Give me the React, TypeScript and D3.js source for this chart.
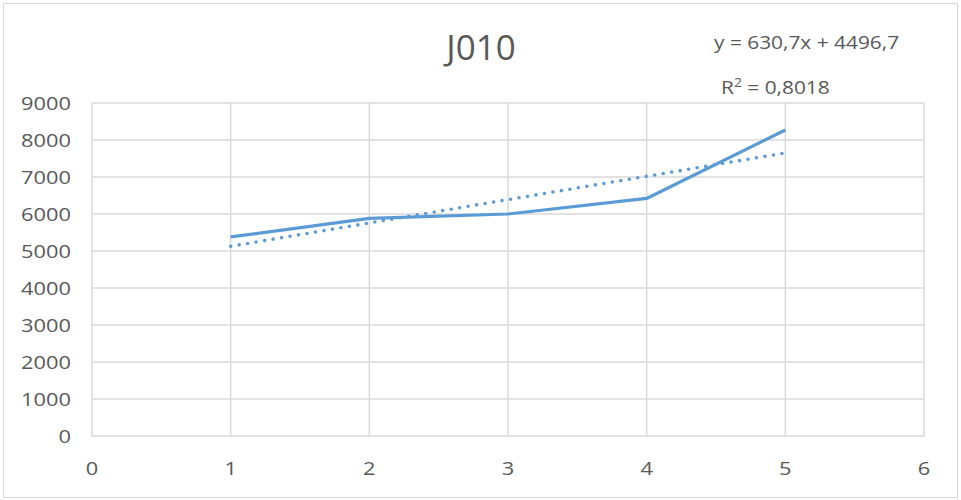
import React from "react";
import * as d3 from "d3";

// Series: period index vs. value
const xValues = [1, 2, 3, 4, 5];
const yValues = [5380, 5880, 6000, 6420, 8270];

// Linear trend as stated by the equation label
const trendSlope = 630.7;
const trendIntercept = 4496.7;
const trendR2 = "0,8018";

const xTicks = [0, 1, 2, 3, 4, 5, 6];
const yTicks = [0, 1000, 2000, 3000, 4000, 5000, 6000, 7000, 8000, 9000];

const title = "J010";

const W = 961;
const H = 500;
const margin = { left: 92, right: 37, top: 103, bottom: 64 };

const fontFamily = "'Open Sans', 'Noto Sans', sans-serif";
const textColor = "#595959";
const gridColor = "#D9D9D9";
const lineColor = "#5B9BD5";

const fmt = (v: number) => String(v).replace(".", ",");

// Text drawn with a slight horizontal stretch
function Label({
  x,
  y,
  size,
  sx = 1,
  anchor = "start",
  dy,
  children,
}: {
  x: number;
  y: number;
  size: number;
  sx?: number;
  anchor?: "start" | "middle" | "end";
  dy?: string;
  children: React.ReactNode;
}) {
  return (
    <text
      transform={`translate(${x},${y}) scale(${sx},1)`}
      textAnchor={anchor}
      dy={dy}
      fontFamily={fontFamily}
      fontSize={size}
      fill={textColor}
    >
      {children}
    </text>
  );
}

export default function App() {
  const x = d3.scaleLinear().domain([0, 6]).range([margin.left, W - margin.right]);
  const y = d3.scaleLinear().domain([0, 9000]).range([H - margin.bottom, margin.top]);

  const data = xValues.map((xv, i) => [xv, yValues[i]] as [number, number]);
  const line = d3
    .line<[number, number]>()
    .x((d) => x(d[0]))
    .y((d) => y(d[1]));

  const xMin = d3.min(xValues)!;
  const xMax = d3.max(xValues)!;
  const trend: [number, number][] = [
    [xMin, trendSlope * xMin + trendIntercept],
    [xMax, trendSlope * xMax + trendIntercept],
  ];

  return (
    <svg width={W} height={H} style={{ display: "block", position: "absolute", left: 0, top: 0 }}>
      <rect x={0} y={0} width={W} height={H} fill="#fff" />
      <rect x={3.5} y={3.5} width={W - 7} height={H - 6} fill="none" stroke="#D9D9D9" strokeWidth={1} />

      {/* grid */}
      {yTicks.map((t) => (
        <line key={"gy" + t} x1={x(0)} x2={x(6)} y1={y(t)} y2={y(t)} stroke={gridColor} strokeWidth={1.5} />
      ))}
      {xTicks.map((t) => (
        <line key={"gx" + t} x1={x(t)} x2={x(t)} y1={y(0)} y2={y(9000)} stroke={gridColor} strokeWidth={1.5} />
      ))}

      {/* tick labels */}
      {yTicks.map((t) => (
        <Label key={"ly" + t} x={x(0) - 21} y={y(t)} dy="0.36em" size={18.5} sx={1.18} anchor="end">
          {t}
        </Label>
      ))}
      {xTicks.map((t) => (
        <Label key={"lx" + t} x={x(t)} y={y(0) + 39} size={18.5} sx={1.18} anchor="middle">
          {t}
        </Label>
      ))}

      {/* series */}
      <path d={line(data)!} fill="none" stroke={lineColor} strokeWidth={3.2} strokeLinejoin="round" />
      <path
        d={line(trend)!}
        fill="none"
        stroke={lineColor}
        strokeWidth={3.6}
        strokeDasharray="0 8.6"
        strokeLinecap="round"
      />

      {/* title */}
      <Label x={481} y={60} size={35} anchor="middle">
        {title}
      </Label>

      {/* trend equation */}
      <Label x={714} y={49} size={18} sx={1.16}>
        {`y = ${fmt(trendSlope)}x + ${fmt(trendIntercept)}`}
      </Label>
      <Label x={721} y={94} size={18} sx={1.16}>
        R<tspan fontSize={12} dy={-7}>2</tspan>
        <tspan dy={7}>{` = ${trendR2}`}</tspan>
      </Label>
    </svg>
  );
}
